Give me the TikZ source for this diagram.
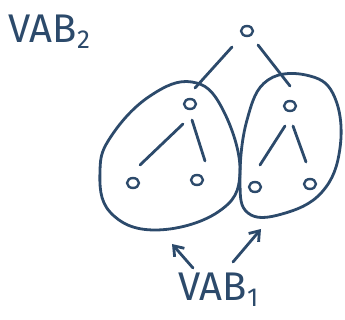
\documentclass[tikz,border=0pt]{standalone}
\usepackage{fontspec}
\setmainfont{Fira Sans}
\usetikzlibrary{arrows.meta,shapes.geometric}
\definecolor{ink}{HTML}{2C4A6B}
\newcommand{\mysub}[1]{\raisebox{-6pt}{\fontsize{26}{26}\selectfont #1}}
\begin{document}
\begin{tikzpicture}[x=1pt,y=-1pt,
  ink/.style={draw=ink,line width=2.8pt,line cap=round,line join=round},
  vert/.style={ink,line width=2.4pt,ellipse,minimum width=12pt,minimum height=10pt,inner sep=0pt},
  lbl/.style={text=ink,font=\fontsize{40}{40}\selectfont,inner sep=0pt}]
\useasboundingbox (0,0) rectangle (345,320);
\node[vert] (r) at (247,31) {};
\node[vert] (a) at (190,104) {};
\node[vert] (b) at (290,106) {};
\node[vert] (a1) at (133,183) {};
\node[vert] (a2) at (197,180) {};
\node[vert] (b1) at (255,187) {};
\node[vert] (b2) at (310,184) {};
\draw[ink] (232,47) -- (195,88);
\draw[ink] (258,45) -- (290,86);
\draw[ink] (183,124) -- (140,165);
\draw[ink] (192,120) -- (205,161);
\draw[ink] (285,126) -- (260,165);
\draw[ink] (293,126) -- (306,162);
\draw[ink] plot[smooth cycle,tension=0.7] coordinates {(112,135) (150,96) (192,82) (222,108) (240,172) (218,212) (155,230) (110,212) (100,170)};
\draw[ink] plot[smooth cycle,tension=0.7] coordinates {(268,80) (310,76) (335,98) (340,148) (322,192) (282,214) (248,213) (240,180) (247,120)};
\node[lbl,anchor=west] (t2) at (8,32) {VAB\mysub{2}};
\node[lbl,anchor=west] (t1) at (178,290) {VAB\mysub{1}};
\coordinate (p1) at (172,244);
\coordinate (p2) at (261,229);
\draw[ink,-{Straight Barb[length=9pt,width=13pt]}] (193,268) -- (p1);
\draw[ink,-{Straight Barb[length=9pt,width=13pt]}] (233,262) -- (p2);
\end{tikzpicture}
\end{document}
